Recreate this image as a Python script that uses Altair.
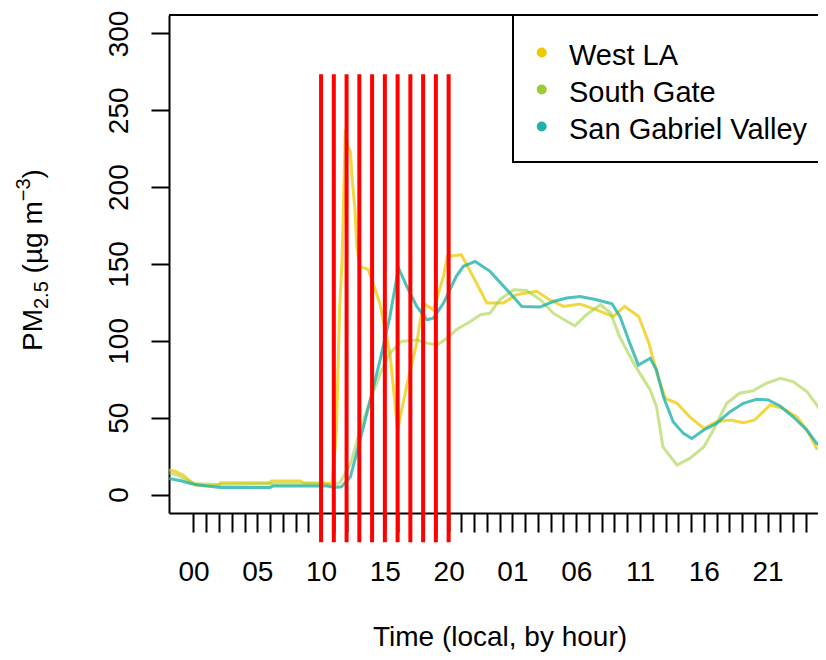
import altair as alt
import pandas as pd

FONT = "Liberation Sans"

series_names = ["West LA", "South Gate", "San Gabriel Valley"]
series_colors = ["#EEC900", "#9ACD32", "#20B2AA"]
line_opacity = [0.75, 0.55, 0.8]

# West LA
wla_hours = [-1.92, -1.4, -0.8, -0.3, 0.2, 2.0, 2.1, 6.0, 6.1, 8.4, 8.6, 10.85, 11.2, 11.45,
             11.65, 11.9, 12.1, 12.3, 12.45, 12.65, 12.8, 13.05, 13.7, 14.6, 15.4, 16.0,
             16.7, 17.5, 18.0, 18.8, 19.6, 19.9, 21.0, 21.9, 23.0, 24.3, 25.3, 26.9, 27.9,
             29.0, 30.3, 31.6, 32.9, 33.8, 34.9, 35.7, 36.4, 37.0, 37.9, 38.9, 40.0, 41.0,
             42.1, 43.1, 44.0, 45.2, 46.2, 47.3, 48.1, 48.85, 49.6]
wla_pm = [16, 15, 12.6, 9, 6, 6, 7.6, 7.6, 8.9, 8.9, 7.6, 7.2, 40, 120,
          153, 237.7, 226, 223.5, 204, 186.6, 161.5, 148.5, 146.3, 124.6, 92, 42,
          70.2, 98.5, 124.6, 120.2, 142, 155, 156, 142, 124.6, 124.6, 130, 132.2, 126.7,
          122.4, 124, 120.2, 115.8, 122.4, 115.8, 98.5, 76.7, 62.6, 59.4, 50.6, 43, 47.4,
          48.5, 46.7, 48.5, 58.3, 56.1, 50.6, 42, 30, 29.4]

# South Gate
sg_hours = [-1.92, -1.2, -0.5, 0.2, 2.0, 6.0, 10.0, 11.0, 11.5, 12.3, 13.0, 13.8, 14.6,
            15.4, 16.3, 17.5, 18.3, 19.1, 19.9, 20.6, 21.7, 22.5, 23.25, 24.0, 25.1, 26.1,
            27.2, 28.2, 29.3, 29.9, 30.8, 31.9, 32.7, 33.4, 34.5, 35.8, 36.3, 36.8, 37.9,
            38.9, 40.0, 40.75, 41.8, 42.8, 43.9, 44.9, 46.0, 47.0, 48.1, 48.85, 49.6]
sg_pm = [14, 12.5, 9, 7, 6.5, 7, 7, 6, 8, 20, 40, 60, 78,
         92, 99.6, 100.6, 98.5, 97.4, 101.8, 107.2, 112.6, 117, 118, 126.7, 133.3, 132.8,
         126.7, 118, 112.6, 109.8, 117, 123.5, 118, 102.8, 85.5, 68, 57.1, 31, 19.1,
         23.5, 31, 42, 59.4, 65.9, 67.6, 72.4, 75.6, 73.5, 66.9, 58.3, 49.6]

# San Gabriel Valley
sgv_hours = [-1.92, -1.0, 0.0, 1.0, 2.1, 6.0, 6.2, 10.5, 11.0, 11.6, 12.3, 13.06, 13.85,
             14.63, 15.4, 16.07, 16.72, 17.5, 18.3, 18.8, 19.6, 20.6, 21.16, 22.08, 23.25,
             24.56, 25.74, 27.17, 28.2, 29.26, 30.3, 31.6, 32.8, 33.44, 34.2, 34.87, 35.8,
             36.3, 36.83, 37.6, 38.4, 39.06, 40.0, 41.0, 42.06, 43.1, 44.15, 45.06, 45.98,
             47.0, 48.07, 48.85, 49.6]
sgv_pm = [10.4, 9, 6.7, 5.5, 4.6, 4.6, 5.5, 5.5, 4.6, 5, 11.5, 35.4, 61.5,
          87.6, 116, 147.4, 135.4, 122.4, 113.7, 114.8, 124.6, 142, 148.5, 151.7, 145.2,
          133.3, 122.4, 122, 125.6, 127.9, 128.9, 126.7, 124.1, 115.8, 98.5, 84.3, 88.7,
          81, 63.7, 47.4, 39.8, 36.5, 42, 46.3, 53.9, 59.4, 62, 61.5, 57.6,
          50.6, 42, 33.3, 30]

event_hours = list(range(10, 21))
event_top, event_bottom = 273.5, -31

x_tick_values = list(range(0, 49))
x_label_hours = [0, 5, 10, 15, 20, 25, 30, 35, 40, 45]
x_tick_labels = ["00", "05", "10", "15", "20", "01", "06", "11", "16", "21"]
y_tick_values = [0, 50, 100, 150, 200, 250, 300]

W, H = 649, 498
PX_PER_HOUR = 12.757
X_MIN = -1.92
X_MAX = X_MIN + W / PX_PER_HOUR

x_scale = alt.Scale(domain=[X_MIN, X_MAX], nice=False, zero=False)
y_scale = alt.Scale(domain=[-12, 312], nice=False, zero=False)

hours_js = "[" + ",".join(str(h) for h in x_label_hours) + "]"
labels_js = "[" + ",".join("'" + s + "'" for s in x_tick_labels) + "]"
label_expr = (f"indexof({hours_js}, datum.value) >= 0 ? "
              f"{labels_js}[indexof({hours_js}, datum.value)] : ''")

x_axis = alt.Axis(values=x_tick_values, labelExpr=label_expr, title="Time (local, by hour)",
                  domain=True, domainColor="black", domainWidth=2,
                  grid=False, tickSize=19, tickWidth=2, tickColor="black",
                  labelFont=FONT, labelFontSize=28, labelColor="black", labelPadding=48,
                  labelBaseline="alphabetic", labelFlush=False, labelOverlap=False,
                  titleFont=FONT, titleFontSize=28, titleFontWeight="normal",
                  titleColor="black", titleBaseline="alphabetic", titleY=132,
                  titleX=(169 + 830) / 2 - 169)
y_axis = alt.Axis(values=y_tick_values, title=None, domain=True, domainColor="black",
                  domainWidth=2, grid=False, tickSize=18,
                  tickWidth=2, tickColor="black", labelFont=FONT, labelFontSize=28,
                  labelColor="black", labelAngle=270, labelAlign="center",
                  labelBaseline="alphabetic", labelPadding=24, labelFlush=False,
                  labelOverlap=False)

X = alt.X("hour:Q", scale=x_scale, axis=x_axis)
Y = alt.Y("pm:Q", scale=y_scale, axis=y_axis)

layers = []
for name, col, op, hrs, vals in zip(series_names, series_colors, line_opacity,
                                     [wla_hours, sg_hours, sgv_hours],
                                     [wla_pm, sg_pm, sgv_pm]):
    df = pd.DataFrame({"hour": hrs, "pm": vals})
    layers.append(alt.Chart(df).mark_line(color=col, opacity=op, strokeWidth=3, clip=True)
                  .encode(x=X, y=Y))

rules = alt.Chart(pd.DataFrame({"hour": event_hours})).mark_rule(
    color="#FF0000", strokeWidth=4).encode(
    x=X, y=alt.datum(event_top), y2=alt.datum(event_bottom))
layers.append(rules)

one = pd.DataFrame({"k": [0]})

# top border of the plot box (the right side lies outside the picture)
layers.append(alt.Chart(one).mark_rule(color="black", strokeWidth=2).encode(
    x=alt.value(0), x2=alt.value(W + 10), y=alt.value(0)))

# legend
layers.append(alt.Chart(one).mark_rect(fill="white", stroke="black", strokeWidth=2).encode(
    x=alt.value(344), x2=alt.value(W + 10), y=alt.value(0), y2=alt.value(147)))
for i, (name, col) in enumerate(zip(series_names, series_colors)):
    ly = 37.5 + 37 * i
    layers.append(alt.Chart(one).mark_circle(size=100, color=col, opacity=1).encode(
        x=alt.value(372.7), y=alt.value(ly)))
    layers.append(alt.Chart(one).mark_text(text=name, align="left", baseline="alphabetic",
                                           font=FONT, fontSize=29, color="black").encode(
        x=alt.value(400), y=alt.value(ly + 12)))

# y-axis title with subscript / superscript
title_parts = [("PM", 28, -127, 336), ("2.5", 20, -121, 294),
               ("(µg m", 28, -127, 258.4), ("−3", 20, -139, 186.3), (")", 28, -127, 163.5)]
for txt, fs, tx, ty in title_parts:
    layers.append(alt.Chart(one).mark_text(text=txt, angle=270, align="left",
                                           baseline="alphabetic", font=FONT, fontSize=fs,
                                           color="black").encode(
        x=alt.value(tx), y=alt.value(ty)))

chart = alt.layer(*layers).properties(
    width=W, height=H,
    padding={"left": 161, "top": 7, "right": 0, "bottom": 139},
    autosize=alt.AutoSizeParams(type="none"),
    background="white",
).configure_view(strokeWidth=0)

chart.save("out.html", embed_options={"renderer": "svg", "actions": False})
